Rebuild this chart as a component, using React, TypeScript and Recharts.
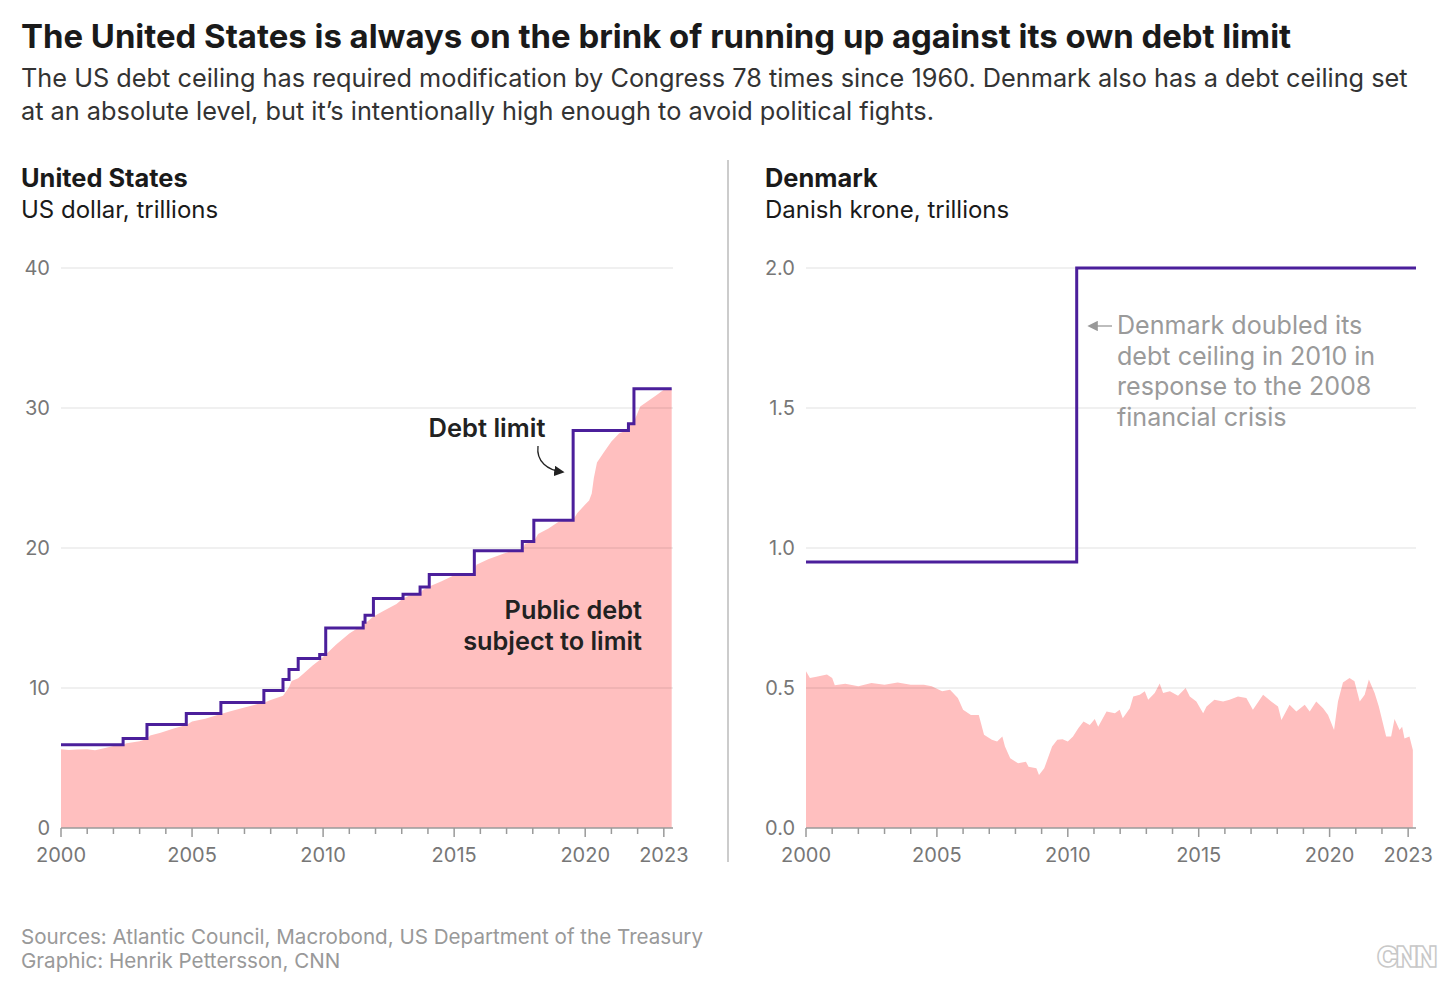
import React from "react";
import {
  ComposedChart,
  Area,
  Line,
  XAxis,
  YAxis,
  ReferenceLine,
} from "recharts";

// US debt limit (trillions USD), step changes by date
const usLimitYears = [
  2000, 2002.37, 2003.28, 2004.78, 2006.1, 2007.74, 2008.47, 2008.7, 2009.05,
  2009.87, 2010.1, 2011.53, 2011.6, 2011.92, 2013.05, 2013.7, 2014.05, 2015.77,
  2017.6, 2018.04, 2019.54, 2021.65, 2021.86, 2023.3,
];
const usLimitValues = [
  5.95, 6.4, 7.384, 8.184, 8.965, 9.815, 10.615, 11.315, 12.104, 12.394, 14.294,
  14.694, 15.194, 16.394, 16.699, 17.212, 18.113, 19.809, 20.456, 21.988, 28.4,
  28.881, 31.381, 31.381,
];

// US public debt subject to limit (trillions USD)
const usDebtYears = [
  2000, 2000.3, 2000.6, 2001, 2001.3, 2001.6, 2002, 2002.37, 2002.5, 2003,
  2003.28, 2003.4, 2003.8, 2004.3, 2004.78, 2005, 2005.5, 2006.1, 2006.5, 2007,
  2007.5, 2007.74, 2008, 2008.47, 2008.7, 2008.8, 2009.05, 2009.3, 2009.6,
  2009.87, 2010.1, 2010.5, 2011, 2011.3, 2011.53, 2011.6, 2011.92, 2012.3,
  2012.8, 2013.05, 2013.4, 2013.7, 2013.8, 2014.05, 2014.5, 2015, 2015.77,
  2015.85, 2016.3, 2016.9, 2017.2, 2017.6, 2017.7, 2018.04, 2018.2, 2018.6, 2019,
  2019.54, 2019.7, 2020, 2020.15, 2020.25, 2020.33, 2020.45, 2020.7, 2021,
  2021.3, 2021.6, 2021.7, 2021.9, 2022.1, 2022.4, 2022.7, 2023, 2023.3,
];
const usDebtValues = [
  5.62, 5.58, 5.6, 5.62, 5.56, 5.68, 5.85, 5.95, 6.05, 6.2, 6.35, 6.6, 6.8, 7.1,
  7.35, 7.6, 7.8, 8.15, 8.35, 8.6, 8.85, 8.95, 9.15, 9.45, 10.05, 10.5, 10.7,
  11.1, 11.6, 12.0, 12.4, 13.1, 13.9, 14.25, 14.29, 14.6, 15.1, 15.5, 16.0, 16.4,
  16.7, 16.7, 17.0, 17.25, 17.6, 18.05, 18.1, 18.8, 19.2, 19.6, 19.8, 19.8, 20.3,
  20.45, 21.0, 21.4, 21.9, 22.0, 22.5, 23.1, 23.4, 23.9, 25.0, 26.1, 26.8, 27.6,
  28.2, 28.4, 28.8, 29.2, 30.1, 30.5, 30.9, 31.3, 31.38,
];

// Denmark debt ceiling (trillions DKK)
const dkLimitYears = [2000, 2010.34, 2023.3];
const dkLimitValues = [0.95, 2.0, 2.0];

// Denmark central government debt (trillions DKK)
const dkDebtYears = [
  2000, 2000.15, 2000.4, 2000.8, 2001, 2001.1, 2001.5, 2002, 2002.5, 2003,
  2003.5, 2004, 2004.5, 2004.8, 2005.2, 2005.5, 2005.8, 2006, 2006.3, 2006.6,
  2006.8, 2007.1, 2007.3, 2007.5, 2007.6, 2007.8, 2008.1, 2008.4, 2008.5,
  2008.8, 2008.9, 2009.1, 2009.4, 2009.6, 2009.8, 2010, 2010.2, 2010.4, 2010.6,
  2010.84, 2011.03, 2011.16, 2011.48, 2011.8, 2011.98, 2012.1, 2012.37, 2012.5,
  2012.75, 2012.94, 2013.07, 2013.32, 2013.51, 2013.64, 2013.9, 2014.21, 2014.5,
  2014.66, 2014.91, 2015.17, 2015.3, 2015.6, 2015.93, 2016.18, 2016.5, 2016.82,
  2017.07, 2017.46, 2017.77, 2018.03, 2018.16, 2018.47, 2018.73, 2019.05,
  2019.24, 2019.49, 2019.75, 2019.94, 2020.17, 2020.32, 2020.51, 2020.76,
  2020.95, 2021.15, 2021.34, 2021.5, 2021.72, 2021.88, 2022.16, 2022.35,
  2022.48, 2022.67, 2022.77, 2022.86, 2023.05, 2023.18,
];
const dkDebtValues = [
  0.56, 0.536, 0.54, 0.548, 0.536, 0.51, 0.515, 0.506, 0.518, 0.512, 0.52,
  0.512, 0.512, 0.506, 0.488, 0.494, 0.464, 0.422, 0.404, 0.404, 0.333, 0.315,
  0.309, 0.327, 0.291, 0.249, 0.231, 0.237, 0.219, 0.213, 0.189, 0.213, 0.291,
  0.315, 0.317, 0.309, 0.327, 0.356, 0.38, 0.368, 0.389, 0.362, 0.416, 0.41,
  0.422, 0.392, 0.428, 0.47, 0.476, 0.488, 0.458, 0.482, 0.516, 0.482, 0.488,
  0.472, 0.5, 0.47, 0.452, 0.41, 0.434, 0.458, 0.452, 0.458, 0.47, 0.464, 0.422,
  0.476, 0.452, 0.434, 0.386, 0.44, 0.416, 0.44, 0.416, 0.452, 0.428, 0.404,
  0.35, 0.452, 0.52, 0.536, 0.524, 0.452, 0.476, 0.53, 0.482, 0.434, 0.327,
  0.327, 0.389, 0.35, 0.362, 0.32, 0.327, 0.279,
];

const xTicks = Array.from({ length: 24 }, (_, i) => 2000 + i);
const xLabels = [2000, 2005, 2010, 2015, 2020, 2023];
const usTicks = [0, 10, 20, 30, 40];
const dkTicks = [0, 0.5, 1.0, 1.5, 2.0];

const FONT = "Inter, 'Noto Sans', sans-serif";
const PINK = "#ffbfbf";
const PURPLE = "#4b1f9b";

const zip = (xs: number[], vs: number[]) => xs.map((x, i) => ({ x, v: vs[i] }));

const XTick = (props: any) => {
  const { x, y, payload } = props;
  const labeled = xLabels.includes(payload.value);
  return (
    <g>
      <line x1={x} x2={x} y1={y} y2={y + (labeled ? 9 : 6)} stroke="#9a9a9a" strokeWidth={1.5} />
      {labeled && (
        <text x={x} y={y + 34} textAnchor="middle" fill="#777" fontSize={20} fontFamily={FONT}>
          {payload.value}
        </text>
      )}
    </g>
  );
};

const Panel = ({
  left,
  yWidth,
  rightMargin,
  domainMax,
  yMax,
  ticks,
  tickFmt,
  area,
  line,
}: any) => (
  <div style={{ position: "absolute", left, top: 240 }}>
    <ComposedChart
      width={700}
      height={640}
      margin={{ top: 28, right: rightMargin, bottom: 0, left: 0 }}
    >
      <XAxis
        type="number"
        dataKey="x"
        domain={[2000, domainMax]}
        ticks={xTicks}
        tick={<XTick />}
        tickLine={false}
        tickSize={0}
        tickMargin={0}
        height={52}
        allowDataOverflow
        axisLine={{ stroke: "#9a9a9a", strokeWidth: 1.5 }}
        interval={0}
      />
      <YAxis
        type="number"
        domain={[0, yMax]}
        ticks={ticks}
        width={yWidth}
        axisLine={false}
        tickLine={false}
        tickSize={0}
        tickMargin={11}
        tickFormatter={tickFmt}
        tick={{ fill: "#777", fontSize: 20, fontFamily: FONT }}
      />
      <Area
        data={area}
        dataKey="v"
        type="linear"
        stroke="none"
        fill={PINK}
        fillOpacity={1}
        isAnimationActive={false}
      />
      {ticks.slice(1).map((t: number) => (
        <ReferenceLine key={t} y={t} stroke="#000" strokeOpacity={0.12} strokeWidth={1} />
      ))}
      <Line
        data={line}
        dataKey="v"
        type="stepAfter"
        stroke={PURPLE}
        strokeWidth={3}
        dot={false}
        isAnimationActive={false}
      />
    </ComposedChart>
  </div>
);

export default function App() {
  const txt = (style: React.CSSProperties) => ({
    position: "absolute" as const,
    fontFamily: FONT,
    margin: 0,
    whiteSpace: "nowrap" as const,
    ...style,
  });
  return (
    <div style={{ position: "absolute", left: 0, top: 0, width: 1456, height: 994, background: "#fff", overflow: "hidden" }}>
      <div style={txt({ left: 21, top: 16, fontSize: 32.9, fontWeight: 700, lineHeight: "40px", color: "#1a1a1a" })}>
        The United States is always on the brink of running up against its own debt limit
      </div>
      <div style={txt({ left: 21, top: 61, fontSize: 25.3, lineHeight: "33px", color: "#333" })}>
        The US debt ceiling has required modification by Congress 78 times since 1960. Denmark also has a debt ceiling set
        <br />
        at an absolute level, but it’s intentionally high enough to avoid political fights.
      </div>

      <div style={txt({ left: 21, top: 162, fontSize: 24, lineHeight: "31px", color: "#1a1a1a" })}>
        <b style={{ fontSize: 25.4 }}>United States</b>
        <br />
        US dollar, trillions
      </div>
      <div style={txt({ left: 765, top: 162, fontSize: 24, lineHeight: "31px", color: "#1a1a1a" })}>
        <b style={{ fontSize: 25.4 }}>Denmark</b>
        <br />
        Danish krone, trillions
      </div>

      <Panel
        left={0}
        yWidth={61}
        rightMargin={27}
        domainMax={2023.35}
        yMax={40}
        ticks={usTicks}
        tickFmt={(v: number) => String(v)}
        area={zip(usDebtYears, usDebtValues)}
        line={zip(usLimitYears, usLimitValues)}
      />
      <Panel
        left={740}
        yWidth={66}
        rightMargin={24}
        domainMax={2023.3}
        yMax={2}
        ticks={dkTicks}
        tickFmt={(v: number) => v.toFixed(1)}
        area={zip(dkDebtYears, dkDebtValues)}
        line={zip(dkLimitYears, dkLimitValues)}
      />

      <svg width={1456} height={994} style={{ position: "absolute", left: 0, top: 0, pointerEvents: "none" }}>
        <defs>
          <marker id="ah" markerWidth="8" markerHeight="8" refX="6" refY="4" orient="auto">
            <path d="M0,0 L8,4 L0,8 z" fill="#222" />
          </marker>
          <marker id="ahg" markerWidth="8" markerHeight="8" refX="6" refY="4" orient="auto">
            <path d="M0,0 L8,4 L0,8 z" fill="#999" />
          </marker>
        </defs>
        <line x1={728} x2={728} y1={160} y2={862} stroke="#bbb" strokeWidth={1.5} />
        <path d="M538,446 C536,462 548,470 562,472" fill="none" stroke="#222" strokeWidth={1.3} markerEnd="url(#ah)" />
        <line x1={1112} x2={1090} y1={326} y2={326} stroke="#999" strokeWidth={1.3} markerEnd="url(#ahg)" />
      </svg>

      <div style={txt({ left: 387, top: 412, width: 200, textAlign: "center", fontSize: 25.5, fontWeight: 600, lineHeight: "31px", color: "#222" })}>
        Debt limit
      </div>
      <div style={txt({ left: 380, top: 594, width: 262, textAlign: "right", fontSize: 25.3, fontWeight: 600, lineHeight: "31px", color: "#222" })}>
        Public debt
        <br />
        subject to limit
      </div>
      <div style={txt({ left: 1117, top: 310, fontSize: 25.1, lineHeight: "30.7px", color: "#9a9a9a" })}>
        Denmark doubled its
        <br />
        debt ceiling in 2010 in
        <br />
        response to the 2008
        <br />
        financial crisis
      </div>

      <div style={txt({ left: 21, top: 925, fontSize: 20.6, lineHeight: "24px", color: "#999" })}>
        Sources: Atlantic Council, Macrobond, US Department of the Treasury
        <br />
        Graphic: Henrik Pettersson, CNN
      </div>
      <div style={txt({ left: 1377, top: 940, fontSize: 28, fontWeight: 900, lineHeight: "34px", color: "transparent", WebkitTextStroke: "1.5px #c8c8c8", letterSpacing: -2 })}>
        CNN
      </div>
    </div>
  );
}
